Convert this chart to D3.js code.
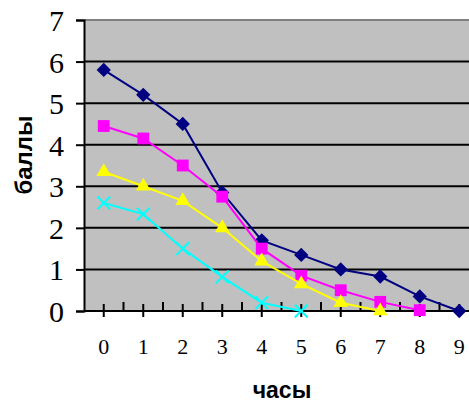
<!DOCTYPE html>
<html>
<head>
<meta charset="utf-8">
<script src="https://cdn.jsdelivr.net/npm/d3@7"></script>
<style>
  html, body { margin: 0; padding: 0; background: #fff; }
  svg { display: block; }
  .serif { font-family: "Liberation Serif", "Times New Roman", Times, serif; }
  .title { font-family: "Liberation Sans", Arial, Helvetica, sans-serif; font-weight: bold; }
</style>
</head>
<body>
<svg id="chart" width="469" height="403"></svg>
<script>
// --- Data ---
const hours = [0, 1, 2, 3, 4, 5, 6, 7, 8, 9];
const yTicks = [0, 1, 2, 3, 4, 5, 6, 7];
const seriesNavy = [5.8, 5.2, 4.5, 2.85, 1.7, 1.35, 1.0, 0.83, 0.35, 0];
const seriesMagenta = [4.45, 4.15, 3.5, 2.75, 1.5, 0.85, 0.5, 0.22, 0.02];
const seriesYellow = [3.35, 3.0, 2.65, 2.0, 1.2, 0.65, 0.2, 0];
const seriesCyan = [2.6, 2.33, 1.5, 0.82, 0.2, 0];

const series = [
    { values: seriesNavy, color: "#000080", marker: "diamond" },
    { values: seriesMagenta, color: "#FF00FF", marker: "square" },
    { values: seriesYellow, color: "#FFFF00", marker: "triangle" },
    { values: seriesCyan, color: "#00FFFF", marker: "cross" }
];

// --- Layout ---
const svg = d3.select("#chart");
const plot = { left: 84, top: 20, right: 479, bottom: 311 };

const x = d3.scaleLinear().domain([-0.5, 9.5]).range([plot.left, plot.right]);
const y = d3.scaleLinear().domain([0, 7]).range([plot.bottom, plot.top]);

// plot background
svg.append("rect")
    .attr("x", plot.left).attr("y", plot.top)
    .attr("width", plot.right - plot.left).attr("height", plot.bottom - plot.top)
    .attr("fill", "#C0C0C0");

// top border
svg.append("line")
    .attr("x1", plot.left).attr("x2", plot.right)
    .attr("y1", plot.top).attr("y2", plot.top)
    .attr("stroke", "#808080").attr("stroke-width", 2);

// gridlines
svg.append("g").selectAll("line")
    .data(yTicks.filter(v => v > 0 && v < 7))
    .join("line")
    .attr("x1", plot.left).attr("x2", plot.right)
    .attr("y1", d => y(d)).attr("y2", d => y(d))
    .attr("stroke", "#000").attr("stroke-width", 2);

// y axis (line + ticks from d3, labels drawn separately)
const yAxis = svg.append("g").attr("transform", `translate(${plot.left},0)`)
    .call(d3.axisLeft(y).tickValues(yTicks).tickSize(8).tickFormat(""));
yAxis.select(".domain").attr("stroke", "#000").attr("stroke-width", 2);
yAxis.selectAll(".tick line").attr("stroke", "#000").attr("stroke-width", 2);

svg.append("g").selectAll("text").data(yTicks).join("text")
    .attr("class", "serif")
    .attr("x", 64).attr("y", d => y(d) + 11)
    .attr("text-anchor", "end")
    .style("font-size", "30px")
    .attr("fill", "#000")
    .text(d => d);

// x axis: major ticks at categories, minor between
const xg = svg.append("g");
xg.append("line")
    .attr("x1", plot.left).attr("x2", plot.right)
    .attr("y1", plot.bottom).attr("y2", plot.bottom)
    .attr("stroke", "#000").attr("stroke-width", 2);
xg.selectAll(".major").data(hours).join("line")
    .attr("class", "major")
    .attr("x1", d => x(d)).attr("x2", d => x(d))
    .attr("y1", plot.bottom - 7).attr("y2", plot.bottom + 6)
    .attr("stroke", "#000").attr("stroke-width", 2);
xg.selectAll(".minor").data(hours.map(d => d + 0.5)).join("line")
    .attr("class", "minor")
    .attr("x1", d => x(d)).attr("x2", d => x(d))
    .attr("y1", plot.bottom - 9).attr("y2", plot.bottom)
    .attr("stroke", "#000").attr("stroke-width", 2);
xg.selectAll("text").data(hours).join("text")
    .attr("class", "serif")
    .attr("x", d => x(d)).attr("y", 354)
    .attr("text-anchor", "middle")
    .style("font-size", "22px")
    .attr("fill", "#000")
    .text(d => d);

// axis titles
svg.append("text")
    .attr("class", "title")
    .attr("x", 282).attr("y", 398)
    .attr("text-anchor", "middle")
    .style("font-size", "23px")
    .text("часы");
svg.append("text")
    .attr("class", "title")
    .attr("transform", "translate(32,155) rotate(-90)")
    .attr("text-anchor", "middle")
    .style("font-size", "24px")
    .text("баллы");

// --- Lines and markers ---
const line = d3.line().x((d, i) => x(i)).y(d => y(d));

const markerSymbol = {
    diamond: d3.symbol().type(d3.symbolDiamond2).size(130),
    square: d3.symbol().type(d3.symbolSquare).size(140),
    triangle: d3.symbol().type(d3.symbolTriangle).size(95),
    cross: d3.symbol().type(d3.symbolTimes).size(110)
};

series.forEach(s => {
    const g = svg.append("g");
    g.append("path")
        .datum(s.values)
        .attr("d", line)
        .attr("fill", "none")
        .attr("stroke", s.color)
        .attr("stroke-width", 2);
    g.selectAll("path.m").data(s.values).join("path")
        .attr("class", "m")
        .attr("transform", (d, i) => `translate(${x(i)},${y(d)})`)
        .attr("d", markerSymbol[s.marker]())
        .attr("fill", s.marker === "cross" ? "none" : s.color)
        .attr("stroke", s.color)
        .attr("stroke-width", s.marker === "cross" ? 2 : 0);
});
</script>
</body>
</html>
